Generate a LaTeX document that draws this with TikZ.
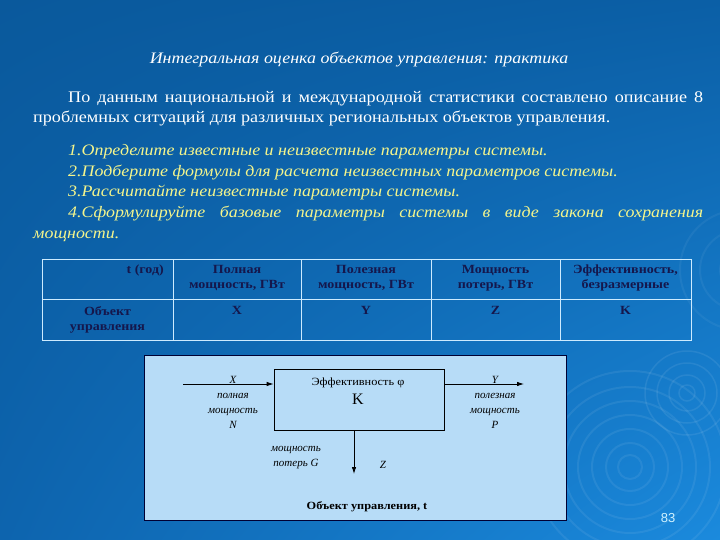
\documentclass[tikz,border=0pt]{standalone}
\usepackage{fontspec}
\setmainfont[FakeStretch=1.12]{Liberation Serif}
\newfontfamily\plainserif{Liberation Serif}
\newfontfamily\pagefont{Liberation Sans}
\usetikzlibrary{positioning,arrows.meta,shadings}

\definecolor{slidetl}{HTML}{0A599C}
\definecolor{slidetr}{HTML}{0B5FA6}
\definecolor{slidebl}{HTML}{0D64AE}
\definecolor{slidebr}{HTML}{1B8ADD}
\definecolor{tasktext}{HTML}{F4F58C}
\definecolor{gridline}{HTML}{CDEBFF}
\definecolor{celltext}{HTML}{15174C}
\definecolor{panelfill}{HTML}{B7DCF7}
\definecolor{pagenum}{HTML}{CFF2FF}

\begin{document}
\begin{tikzpicture}[x=1pt, y=-1pt, >={Latex[length=7pt,width=4.5pt]}]
    \tikzstyle{heading} = [font=\fontsize{16}{18}\selectfont\itshape, text=white, inner sep=0pt]
    \tikzstyle{bodytext} = [font=\fontsize{16.2}{20}\selectfont, text=white, text width=670pt, align=justify, inner sep=0pt]
    \tikzstyle{tasks} = [font=\fontsize{16}{20.8}\selectfont\itshape, text=tasktext, text width=670pt, align=justify, inner sep=0pt]
    \tikzstyle{grid} = [draw=gridline, line width=0.9pt]
    \tikzstyle{cell} = [font=\fontsize{12.5}{15}\selectfont\bfseries, text=celltext, align=center, inner sep=0pt]
    \tikzstyle{panel} = [draw=black!80!blue, fill=panelfill, line width=0.8pt]
    \tikzstyle{flowtext} = [font=\plainserif\fontsize{11}{15}\selectfont\itshape, align=center, inner sep=0pt]

    % Background
    \useasboundingbox (0,0) rectangle (720,540);
    \shade[upper left=slidetl, upper right=slidetr, lower left=slidebl, lower right=slidebr] (0,0) rectangle (720,540);
    \foreach \r in {12,24,38,52,66,80,96} \draw[white, opacity=0.07, line width=2pt] (630,467) circle (\r pt);
    \foreach \r in {8,18,30,42} \draw[white, opacity=0.08, line width=1.5pt] (687,393) circle (\r pt);
    \foreach \r in {20,40,60} \draw[white, opacity=0.05, line width=2pt] (740,270) circle (\r pt);

    % Heading and task text
    \node[heading] (title) at (359,60) {Интегральная оценка объектов управления: практика};
    \node[bodytext, anchor=north west] (intro) at (33,91) {\hspace*{35pt}По данным национальной и международной статистики составлено описание 8\linebreak
    проблемных ситуаций для различных региональных объектов управления.};
    \node[tasks, anchor=north west] (task_list) at (33,144) {%
    \hspace*{35pt}1.Определите известные и неизвестные параметры системы.\\
    \hspace*{35pt}2.Подберите формулы для расчета неизвестных параметров системы.\\
    \hspace*{35pt}3.Рассчитайте неизвестные параметры системы.\\
    \hspace*{35pt}4.Сформулируйте базовые параметры системы в виде закона сохранения\linebreak
    мощности.};

    % Table
    \draw[grid] (42,259) rectangle (691,340);
    \draw[grid] (42,299) -- (691,299);
    \foreach \x in {173,301,431,560} \draw[grid] (\x,259) -- (\x,340);

    \node[cell, anchor=north east] (year_head) at (164,265) {t (год)};
    \node[cell, anchor=north] (full_head) at (237,265) {Полная\\мощность, ГВт};
    \node[cell, anchor=north] (useful_head) at (366,265) {Полезная\\мощность, ГВт};
    \node[cell, anchor=north] (loss_head) at (495.5,265) {Мощность\\потерь, ГВт};
    \node[cell, anchor=north] (eff_head) at (625.5,265) {Эффективность,\\безразмерные};

    \node[cell, anchor=north] (object_cell) at (107.5,306) {Объект\\управления};
    \node[cell, anchor=north] (x_cell) at (237,306) {X};
    \node[cell, anchor=north] (y_cell) at (366,306) {Y};
    \node[cell, anchor=north] (z_cell) at (495.5,306) {Z};
    \node[cell, anchor=north] (k_cell) at (625.5,306) {K};

    % Control object scheme
    \draw[panel] (144,355) rectangle (566,520);
    \node[draw=black, line width=0.8pt, minimum width=170pt, minimum height=61pt, inner sep=0pt] (block) at (359,399.5) {};
    \node[font=\fontsize{11}{13}\selectfont, inner sep=0pt] (eff_text) at (358,383) {Эффективность φ};
    \node[font=\plainserif\fontsize{16}{18}\selectfont, inner sep=0pt, below=6pt of eff_text] (k_text) {K};

    \coordinate (x_in) at (183,384);
    \coordinate (y_out) at (524,384);
    \coordinate (z_out) at (354,474);
    \draw[->, line width=0.8pt] (x_in) -- (x_in -| block.west);
    \draw[->, line width=0.8pt] (y_out -| block.east) -- (y_out);
    \draw[->, line width=0.8pt] (z_out |- block.south) -- (z_out);

    \node[flowtext] (x_text) at (233,402.5) {X\\полная\\мощность\\N};
    \node[flowtext] (y_text) at (495,402.5) {Y\\полезная\\мощность\\P};
    \node[flowtext] (g_text) at (296,457.5) {мощность\\потерь G};
    \node[flowtext] (z_text) at (383,465) {Z};
    \node[font=\fontsize{11}{13}\selectfont\bfseries, inner sep=0pt] (object_text) at (367,507) {Объект управления, t};

    % Page number
    \node[font=\pagefont\fontsize{13}{15}\selectfont, text=pagenum, inner sep=0pt] (page_num) at (668,518) {83};
\end{tikzpicture}
\end{document}
